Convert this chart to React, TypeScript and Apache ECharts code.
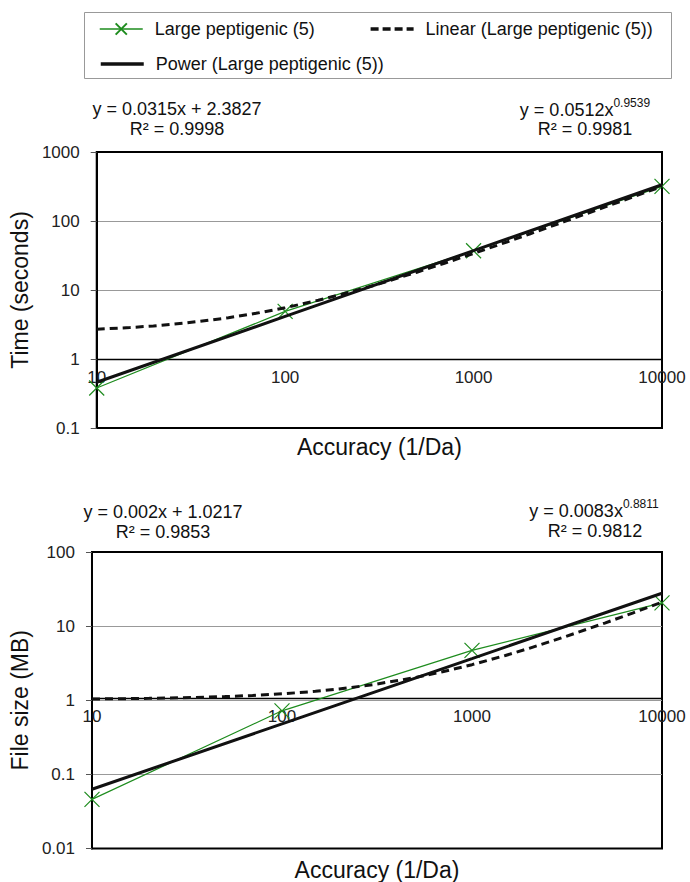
import React, { useEffect, useRef } from "react";
import * as echarts from "echarts";

// ---- data ----
const ACCURACY = [10, 100, 1000, 10000];
const TIME_S = [0.38, 4.9, 37, 317];
const FILE_MB = [0.046, 0.72, 4.7, 20.6];

const TREND_X = [10, 15, 20, 30, 50, 70, 100, 150, 200, 300, 500, 700, 1000, 1500, 2000, 3000, 5000, 7000, 10000];
const TIME_LINEAR = [2.7, 2.86, 3.01, 3.33, 3.96, 4.59, 5.53, 7.11, 8.68, 11.8, 18.1, 24.4, 33.9, 49.6, 65.4, 96.9, 160, 223, 317];
const FILE_LINEAR = [1.04, 1.05, 1.06, 1.08, 1.12, 1.16, 1.22, 1.32, 1.42, 1.62, 2.02, 2.42, 3.02, 4.02, 5.02, 7.02, 11.0, 15.0, 21.0];

const POWER_X = [10, 100, 1000, 10000];
const TIME_POWER = [0.46, 4.14, 37.2, 335];
const FILE_POWER = [0.063, 0.48, 3.65, 27.8];

const SERIES_NAMES = ["Large peptigenic (5)", "Linear (Large peptigenic (5))", "Power (Large peptigenic (5))"];
const EQUATIONS = {
  topLinear: ["y = 0.0315x + 2.3827", "R² = 0.9998"],
  topPower: ["y = 0.0512x", "0.9539", "R² = 0.9981"],
  botLinear: ["y = 0.002x + 1.0217", "R² = 0.9853"],
  botPower: ["y = 0.0083x", "0.8811", "R² = 0.9812"],
};

const FONT = "Liberation Sans, Arial, Helvetica, sans-serif";
const GREEN = "#1e8c1e";
const X_SYMBOL = "path://M0,0L10,10M10,0L0,10";

const zip = (xs: number[], ys: number[]) => xs.map((x, i) => [x, ys[i]]);
const fmt = (v: number) => String(+Number(v).toPrecision(6));

export default function App() {
  const ref = useRef<HTMLDivElement>(null);
  useEffect(() => {
    document.body.style.margin = "0";
    if (!ref.current) return;
    const chart = echarts.init(ref.current, null, { renderer: "svg" });

    const xAxisBase = (grid: number, offset: number, nameGap: number) => ({
      type: "log",
      logBase: 10,
      gridIndex: grid,
      min: 10,
      max: 10000,
      position: "bottom",
      offset,
      axisLine: { show: true, lineStyle: { color: "#000", width: 1.3 } },
      axisTick: { show: false },
      axisLabel: { fontSize: 17, color: "#222", fontFamily: FONT, margin: 10, formatter: fmt },
      splitLine: { show: false },
      name: "Accuracy (1/Da)",
      nameLocation: "middle",
      nameGap,
      nameTextStyle: { fontSize: 23, color: "#111", fontFamily: FONT },
    });
    const yAxisBase = (grid: number, min: number, max: number, name: string) => ({
      type: "log",
      logBase: 10,
      gridIndex: grid,
      min,
      max,
      axisLine: { show: true, lineStyle: { color: "#000", width: 2 } },
      axisTick: { show: true, length: 6, lineStyle: { color: "#555" } },
      axisLabel: { fontSize: 17, color: "#222", fontFamily: FONT, margin: 17, formatter: fmt },
      splitLine: { show: true, showMinLine: false, showMaxLine: false, lineStyle: { color: "#999", width: 1 } },
      minorTick: { show: false },
      name,
      nameLocation: "middle",
      nameGap: 56,
      nameTextStyle: { fontSize: 23, color: "#111", fontFamily: FONT },
    });

    const dataSeries = (xi: number, ys: number[]) => ({
      name: SERIES_NAMES[0],
      type: "line",
      xAxisIndex: xi,
      yAxisIndex: xi,
      data: zip(ACCURACY, ys),
      symbol: X_SYMBOL,
      symbolSize: 15,
      lineStyle: { color: GREEN, width: 1.2 },
      itemStyle: { color: "transparent", borderColor: GREEN, borderWidth: 1.2 },
      z: 2,
    });
    const linearSeries = (xi: number, ys: number[]) => ({
      name: SERIES_NAMES[1],
      type: "line",
      xAxisIndex: xi,
      yAxisIndex: xi,
      data: zip(TREND_X, ys),
      symbol: "none",
      lineStyle: { color: "#111", width: 3, type: [8, 5] },
      itemStyle: { color: "#111" },
      z: 3,
    });
    const powerSeries = (xi: number, ys: number[]) => ({
      name: SERIES_NAMES[2],
      type: "line",
      xAxisIndex: xi,
      yAxisIndex: xi,
      data: zip(POWER_X, ys),
      symbol: "none",
      lineStyle: { color: "#111", width: 3 },
      itemStyle: { color: "#111" },
      z: 4,
    });

    const eqText = (x: number, y: number, s: string) => ({
      type: "text",
      x,
      y,
      style: { text: s, font: `18px ${FONT}`, fill: "#111", align: "center", verticalAlign: "middle" },
    });
    const eqSup = (x: number, y: number, base: string, sup: string) => ({
      type: "text",
      x,
      y,
      style: {
        text: `{b|${base}}{s|${sup}}`,
        align: "center",
        verticalAlign: "middle",
        rich: {
          b: { fontSize: 18, fontFamily: FONT, fill: "#111", lineHeight: 22, verticalAlign: "bottom" },
          s: { fontSize: 12, fontFamily: FONT, fill: "#111", lineHeight: 11, verticalAlign: "top" },
        },
      },
    });

    const legendCommon = {
      orient: "horizontal",
      itemWidth: 43,
      itemHeight: 14,
      padding: 0,
      selectedMode: false,
      textStyle: { fontSize: 18, color: "#111", fontFamily: FONT, padding: [0, 0, 0, 7] },
    };
    const noSymbol = { color: "transparent", opacity: 0, borderWidth: 0 };

    chart.setOption({
      animation: false,
      backgroundColor: "#fff",
      legend: [
        {
          ...legendCommon,
          data: [
            { name: SERIES_NAMES[0], lineStyle: { width: 1.5 } },
            { name: SERIES_NAMES[1], itemStyle: noSymbol, lineStyle: { width: 3.5, type: [8, 4] } },
          ],
          left: 99,
          top: 20,
          itemGap: 54,
        },
        {
          ...legendCommon,
          data: [{ name: SERIES_NAMES[2], itemStyle: noSymbol, lineStyle: { width: 3.5 } }],
          left: 99,
          top: 55,
        },
      ],
      grid: [
        { left: 86, right: 28, top: 152, height: 276, show: true, borderColor: "#000", borderWidth: 2 },
        { left: 82, right: 28, top: 552, height: 301, show: true, borderColor: "#000", borderWidth: 2 },
      ],
      xAxis: [xAxisBase(0, -69, 76), xAxisBase(1, -150.5, 160)],
      yAxis: [yAxisBase(0, 0.1, 1000, "Time (seconds)"), yAxisBase(1, 0.01, 100, "File size (MB)")],
      series: [
        dataSeries(0, TIME_S),
        linearSeries(0, TIME_LINEAR),
        powerSeries(0, TIME_POWER),
        dataSeries(1, FILE_MB),
        linearSeries(1, FILE_LINEAR),
        powerSeries(1, FILE_POWER),
      ],
      graphic: [
        { type: "rect", shape: { x: 84.5, y: 12.5, width: 587, height: 66 }, style: { fill: "none", stroke: "#999", lineWidth: 1 }, z: -1 },
        eqText(177, 109, EQUATIONS.topLinear[0]),
        eqText(177, 129, EQUATIONS.topLinear[1]),
        eqSup(585, 108, EQUATIONS.topPower[0], EQUATIONS.topPower[1]),
        eqText(585, 129, EQUATIONS.topPower[2]),
        eqText(163, 512, EQUATIONS.botLinear[0]),
        eqText(163, 532, EQUATIONS.botLinear[1]),
        eqSup(594, 509, EQUATIONS.botPower[0], EQUATIONS.botPower[1]),
        eqText(595, 531, EQUATIONS.botPower[2]),
      ],
    });
    return () => chart.dispose();
  }, []);
  return <div ref={ref} style={{ position: "absolute", left: 0, top: 0, width: 690, height: 882 }} />;
}
